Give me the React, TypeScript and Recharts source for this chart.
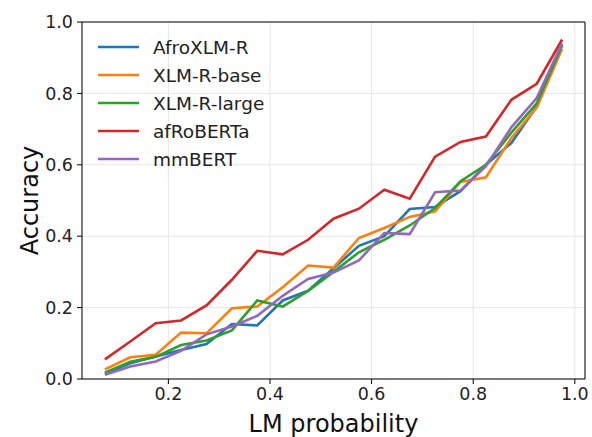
import React from "react"
import { CartesianGrid, Line, LineChart, ReferenceLine, XAxis, YAxis } from "recharts"

// bin centres of the LM probability histogram
const probBins = [
  0.075, 0.125, 0.175, 0.225, 0.275, 0.325, 0.375, 0.425, 0.475, 0.525,
  0.575, 0.625, 0.675, 0.725, 0.775, 0.825, 0.875, 0.925, 0.975,
]

const afroXlmR = [
  0.015, 0.044, 0.063, 0.081, 0.098, 0.154, 0.15, 0.22, 0.247, 0.31,
  0.373, 0.4, 0.476, 0.482, 0.526, 0.6, 0.661, 0.764, 0.937,
]
const xlmRBase = [
  0.027, 0.061, 0.068, 0.13, 0.128, 0.198, 0.203, 0.257, 0.318, 0.312,
  0.395, 0.423, 0.454, 0.47, 0.552, 0.565, 0.675, 0.76, 0.925,
]
const xlmRLarge = [
  0.018, 0.048, 0.062, 0.095, 0.108, 0.136, 0.22, 0.203, 0.247, 0.3,
  0.355, 0.39, 0.43, 0.479, 0.554, 0.6, 0.69, 0.772, 0.935,
]
const afroBerta = [
  0.055, 0.105, 0.156, 0.164, 0.206, 0.278, 0.359, 0.349, 0.39, 0.449,
  0.477, 0.53, 0.505, 0.623, 0.664, 0.679, 0.782, 0.827, 0.951,
]
const mmBert = [
  0.012, 0.035, 0.049, 0.079, 0.125, 0.147, 0.177, 0.233, 0.28, 0.298,
  0.332, 0.409, 0.406, 0.523, 0.528, 0.596, 0.705, 0.787, 0.94,
]

const series = [
  { key: "AfroXLM-R", values: afroXlmR, color: "#1f77b4" },
  { key: "XLM-R-base", values: xlmRBase, color: "#ff7f0e" },
  { key: "XLM-R-large", values: xlmRLarge, color: "#2ca02c" },
  { key: "afRoBERTa", values: afroBerta, color: "#d62728" },
  { key: "mmBERT", values: mmBert, color: "#9467bd" },
]

const xTicks = [0.2, 0.4, 0.6, 0.8, 1.0]
const yTicks = [0, 0.2, 0.4, 0.6, 0.8, 1.0]

const data = probBins.map((p, i) => {
  const row: { [key: string]: number } = { prob: p }
  series.forEach((s) => {
    row[s.key] = s.values[i]
  })
  return row
})

const font = "DejaVu Sans, sans-serif"

const LegendBox = () => (
  <div
    style={{
      position: "absolute",
      left: 98,
      top: 33,
      fontFamily: font,
      fontSize: 18.5,
      color: "#222",
      pointerEvents: "none",
    }}
  >
    {series.map((s) => (
      <div key={s.key} style={{ display: "flex", alignItems: "center", height: 28 }}>
        <svg width={41} height={6} style={{ marginRight: 14 }}>
          <line x1={0} y1={3} x2={41} y2={3} stroke={s.color} strokeWidth={2.6} />
        </svg>
        <span>{s.key}</span>
      </div>
    ))}
  </div>
)

export default function App() {
  return (
    <div style={{ position: "absolute", left: 0, top: 0, width: 592, height: 437, background: "#fff" }}>
      <LineChart width={592} height={437} data={data} margin={{ top: 22, right: 7, bottom: 0, left: 0 }}>
        <CartesianGrid stroke="#e6e6e6" strokeWidth={1} />
        <XAxis
          dataKey="prob"
          type="number"
          domain={[0.03, 1.02]}
          ticks={xTicks}
          allowDataOverflow
          height={58}
          tickFormatter={(v: number) => v.toFixed(1)}
          stroke="#000"
          tick={{ fill: "#222", fontSize: 17.5, fontFamily: font }}
          tickSize={5}
          tickMargin={4}
          label={{ value: "LM probability", position: "insideBottom", offset: 5, fill: "#111", fontSize: 24, fontFamily: font }}
        />
        <YAxis
          type="number"
          domain={[0, 1]}
          ticks={yTicks}
          allowDataOverflow
          width={82}
          tickFormatter={(v: number) => v.toFixed(1)}
          stroke="#000"
          tick={{ fill: "#222", fontSize: 17.5, fontFamily: font }}
          tickSize={5}
          tickMargin={4}
          label={{ value: "Accuracy", angle: -90, position: "center", dx: -12, fill: "#111", fontSize: 24, fontFamily: font }}
        />
        <ReferenceLine y={1} stroke="#000" strokeWidth={1} ifOverflow="extendDomain" />
        <ReferenceLine x={1.02} stroke="#000" strokeWidth={1} ifOverflow="extendDomain" />
        {series.map((s) => (
          <Line
            key={s.key}
            type="linear"
            dataKey={s.key}
            stroke={s.color}
            strokeWidth={2.6}
            dot={false}
            activeDot={false}
            isAnimationActive={false}
          />
        ))}
      </LineChart>
      <LegendBox />
    </div>
  )
}
